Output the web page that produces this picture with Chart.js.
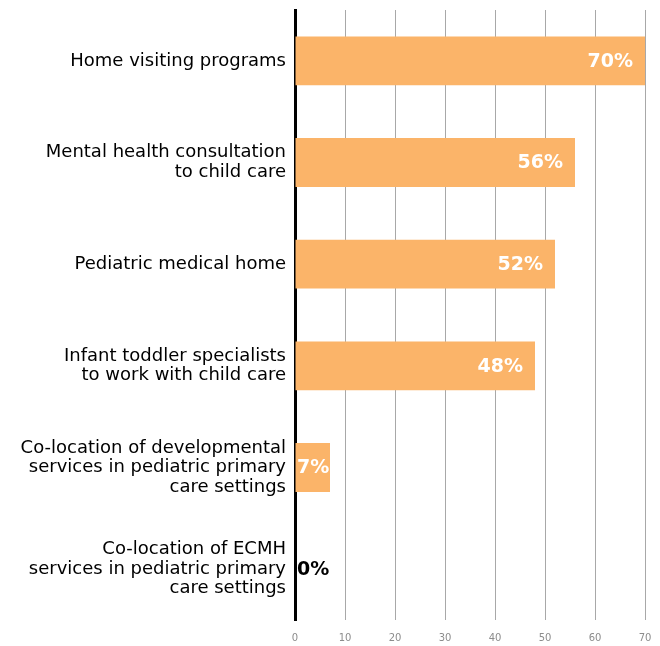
<!DOCTYPE html>
<html><head><meta charset="utf-8">
<script src="https://cdn.jsdelivr.net/npm/chart.js@4"></script>
<style>html,body{margin:0;padding:0;background:#fff}#wrap{width:660px;height:646px}</style>
</head><body><div id="wrap"><canvas id="c" width="660" height="646"></canvas></div>
<script>
const categories = [
  ["Home visiting programs"],
  ["Mental health consultation", "to child care"],
  ["Pediatric medical home"],
  ["Infant toddler specialists", "to work with child care"],
  ["Co-location of developmental", "services in pediatric primary", "care settings"],
  ["Co-location of ECMH", "services in pediatric primary", "care settings"]
];
const values = [70, 56, 52, 48, 7, 0];
const xTicks = [0, 10, 20, 30, 40, 50, 60, 70];

const FONT = "'DejaVu Sans', sans-serif";

const labelPlugin = {
  id: 'barLabels',
  afterDatasetsDraw(chart) {
    const ctx = chart.ctx;
    const meta = chart.getDatasetMeta(0);
    const area = chart.chartArea;
    ctx.save();
    ctx.font = "bold 19px " + FONT;
    ctx.textBaseline = 'middle';
    meta.data.forEach((bar, i) => {
      const txt = values[i] + '%';
      const w = ctx.measureText(txt).width;
      let x = bar.x - 12;
      if (x - w < area.left + 2) {
        ctx.textAlign = 'left';
        ctx.fillStyle = values[i] === 0 ? '#000' : '#fff';
        ctx.fillText(txt, area.left + 2, bar.y + 1);
      } else {
        ctx.textAlign = 'right';
        ctx.fillStyle = '#fff';
        ctx.fillText(txt, x, bar.y + 1);
      }
    });
    ctx.restore();
  }
};

new Chart(document.getElementById('c'), {
  type: 'bar',
  data: {
    labels: categories,
    datasets: [{
      data: values,
      backgroundColor: '#FBB469',
      borderWidth: 0,
      categoryPercentage: 1,
      barPercentage: 0.48
    }]
  },
  options: {
    indexAxis: 'y',
    responsive: false,
    animation: false,
    events: [],
    layout: { padding: { top: 10, right: 15, bottom: 0, left: 0 } },
    plugins: { legend: { display: false }, tooltip: { enabled: false } },
    scales: {
      x: {
        min: 0, max: 70,
        afterBuildTicks(s) { s.ticks = xTicks.map(v => ({ value: v })); },
        afterFit(s) { s.height = 26; s.paddingLeft = 0; s.paddingRight = 0; },
        grid: { color: '#a8a8a8', lineWidth: 1, drawTicks: false },
        border: { display: false },
        ticks: { color: '#8c8c8c', font: { family: FONT, size: 10 }, padding: 12 }
      },
      y: {
        afterFit(s) { s.width = 295; s.paddingTop = 0; s.paddingBottom = 0; },
        grid: { display: false, drawTicks: false },
        border: { display: true, color: '#000', width: 3 },
        ticks: { color: '#000', font: { family: FONT, size: 18, lineHeight: 1.08 }, padding: 9 }
      }
    }
  },
  plugins: [labelPlugin]
});
</script>
</body></html>
